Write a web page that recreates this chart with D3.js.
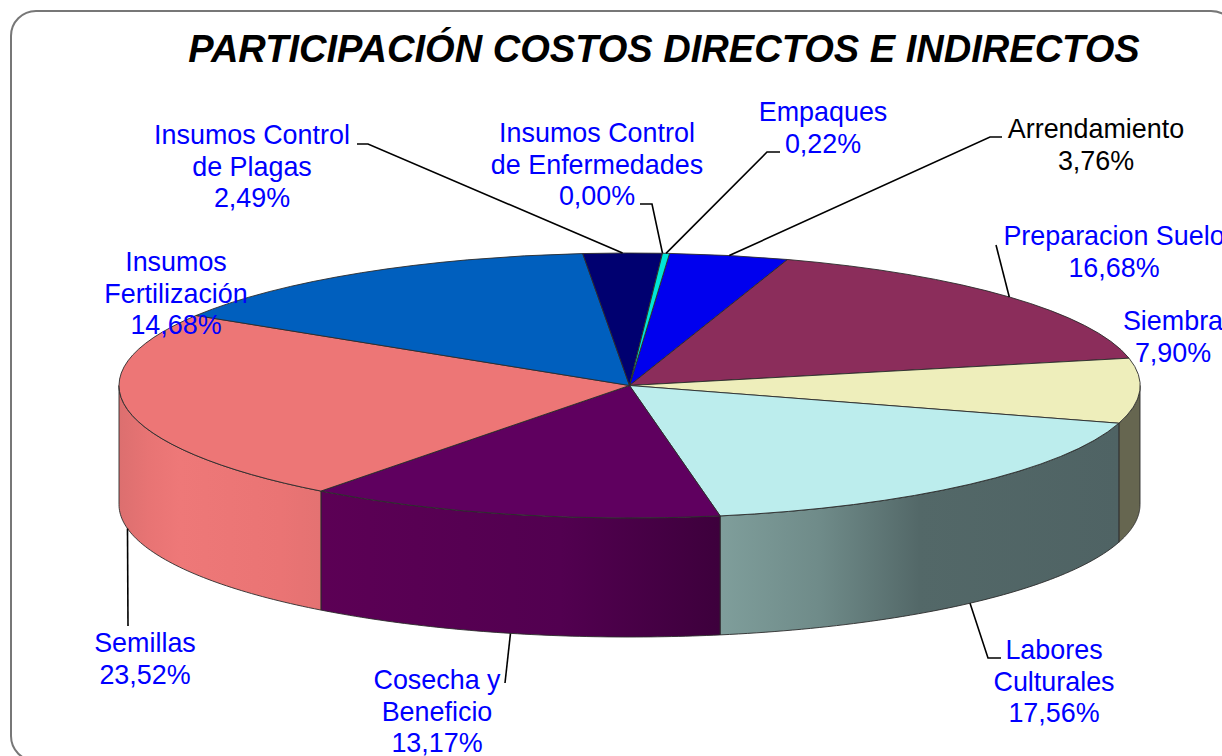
<!DOCTYPE html>
<html lang="es">
<head>
    <meta charset="UTF-8">
    <title>Participación costos directos e indirectos</title>
    <script src="https://d3js.org/d3.v7.min.js"></script>
    <style>
        html, body { margin: 0; padding: 0; background: #fff; overflow: hidden; }
        svg { display: block; font-family: "Liberation Sans", Arial, sans-serif; }
        .label { font-size: 26.9px; text-anchor: middle; }
        .title { font-size: 38.05px; font-weight: bold; font-style: italic; text-anchor: middle; }
    </style>
</head>
<body>
    <div id="chart"></div>
    <script>
        // values in pie order, clockwise from the top
        var categories = ["Arrendamiento", "Preparacion Suelo", "Siembra", "Labores Culturales", "Cosecha y Beneficio",
            "Semillas", "Insumos Fertilización", "Insumos Control de Plagas", "Insumos Control de Enfermedades", "Empaques"];
        var values = [3.76, 16.68, 7.90, 17.56, 13.17, 23.52, 14.68, 2.49, 0.00, 0.22];
        var labelLines = [["Arrendamiento"], ["Preparacion Suelo"], ["Siembra"], ["Labores", "Culturales"], ["Cosecha y", "Beneficio"],
            ["Semillas"], ["Insumos", "Fertilización"], ["Insumos Control", "de Plagas"], ["Insumos Control", "de Enfermedades"], ["Empaques"]];
        var topColors = ["#0000ee", "#8b2d5b", "#eeeebb", "#bceded", "#5f005f", "#ed7676", "#005fbe", "#000070", "#00e6d8", "#00e6d8"];

        // label placement, same order as categories: centre x, first baseline
        var labelX = [1096, 1114, 1173, 1054, 437, 145, 176, 252, 597, 823];
        var labelY = [138, 245, 330, 659, 689, 652, 271, 144, 142, 121];
        var labelColor = ["#000", "#0000ff", "#0000ff", "#0000ff", "#0000ff", "#0000ff", "#0000ff", "#0000ff", "#0000ff", "#0000ff"];
        // leader lines: bends after the point on the rim (null = no leader)
        var leaderBends = [
            [[990, 137], [1002, 137]],
            [[996, 245]],
            null,
            [[988, 658], [1001, 658]],
            [[505, 683]],
            [[128, 626]],
            null,
            [[368, 144], [357, 144]],
            [[652, 204], [640, 204]],
            [[767, 152], [780, 152]]
        ];
        // side wall shading per slice (stops over the slice's x extent)
        var wallStops = {
            2: [[0, "#666650"], [1, "#666650"]],
            3: [[0, "#7f9e9b"], [0.25, "#6f8b89"], [0.5, "#536868"], [1, "#4f6364"]],
            4: [[0, "#5c0055"], [0.6, "#520050"], [1, "#3d003c"]],
            5: [[0, "#dc6f6f"], [0.15, "#e87474"], [0.3, "#ee7878"], [0.8, "#ea7474"], [1, "#e47272"]]
        };

        var width = 1222, height = 756;
        var cx = 629.5, cy = 385.5, rx = 510.5, ry = 132.5, depth = 119;
        var startAngle = 4.5 * Math.PI / 180;

        var svg = d3.select("#chart").append("svg")
            .attr("width", width)
            .attr("height", height);

        var defs = svg.append("defs");

        // frame
        svg.append("rect")
            .attr("x", 11).attr("y", 11)
            .attr("width", 1225).attr("height", 750)
            .attr("rx", 25).attr("ry", 25)
            .style("fill", "#fff")
            .style("stroke", "#777")
            .style("stroke-width", 2);

        // title
        svg.append("text")
            .attr("class", "title")
            .attr("x", 664).attr("y", 62)
            .style("fill", "#000")
            .text("PARTICIPACIÓN COSTOS DIRECTOS E INDIRECTOS");

        var pie = d3.pie().sort(null)
            .startAngle(startAngle)
            .endAngle(startAngle + 2 * Math.PI);
        var slices = pie(values);

        function rimX(a) { return cx + rx * Math.sin(a); }
        function rimY(a) { return cy - ry * Math.cos(a); }

        var wallLine = d3.line();

        // side walls, only the front half of the pie shows
        Object.keys(wallStops).forEach(function (k) {
            var s = slices[+k];
            var a0 = Math.max(s.startAngle, Math.PI / 2);
            var a1 = Math.min(s.endAngle, 3 * Math.PI / 2);
            if (a1 <= a0) return;
            var angles = d3.range(0, 61).map(function (i) { return a0 + (a1 - a0) * i / 60; });
            var pts = angles.map(function (a) { return [rimX(a), rimY(a)]; });
            var low = angles.slice().reverse().map(function (a) { return [rimX(a), rimY(a) + depth]; });

            var xs = pts.map(function (p) { return p[0]; });
            var xLeft = d3.min(xs), xRight = d3.max(xs);
            var grad = defs.append("linearGradient")
                .attr("id", "wall" + k)
                .attr("gradientUnits", "userSpaceOnUse")
                .attr("x1", xLeft).attr("x2", xRight)
                .attr("y1", 0).attr("y2", 0);
            wallStops[k].forEach(function (st) {
                grad.append("stop").attr("offset", st[0]).attr("stop-color", st[1]);
            });

            svg.append("path")
                .attr("d", wallLine(pts.concat(low)) + "Z")
                .style("fill", "url(#wall" + k + ")")
                .style("stroke", "#2b2b2b")
                .style("stroke-width", 0.9);
        });

        // top of the pie, a flat d3.arc squashed into an ellipse
        var arc = d3.arc().innerRadius(0).outerRadius(rx);
        svg.append("g")
            .attr("transform", "translate(" + cx + "," + cy + ") scale(1," + (ry / rx) + ")")
            .selectAll("path")
            .data(slices)
            .enter()
            .append("path")
            .attr("d", arc)
            .attr("vector-effect", "non-scaling-stroke")
            .style("fill", function (d, i) { return topColors[i]; })
            .style("stroke", "#2b2b2b")
            .style("stroke-width", 0.9);

        // leader lines start on the rim at the middle of the slice
        var leader = d3.line();
        slices.forEach(function (s, i) {
            if (!leaderBends[i]) return;
            var mid = (s.startAngle + s.endAngle) / 2;
            var onFront = Math.cos(mid) < 0;
            var start = [rimX(mid), rimY(mid) + (onFront ? depth : 0)];
            svg.append("path")
                .attr("d", leader([start].concat(leaderBends[i])))
                .style("fill", "none")
                .style("stroke", "#000")
                .style("stroke-width", 1.6);
        });

        // labels
        var fmt = function (v) { return v.toFixed(2).replace(".", ",") + "%"; };
        categories.forEach(function (c, i) {
            var t = svg.append("text")
                .attr("class", "label")
                .style("fill", labelColor[i]);
            labelLines[i].concat([fmt(values[i])]).forEach(function (line, j) {
                t.append("tspan")
                    .attr("x", labelX[i])
                    .attr("y", labelY[i] + j * 31.6)
                    .text(line);
            });
        });
    </script>
</body>
</html>
